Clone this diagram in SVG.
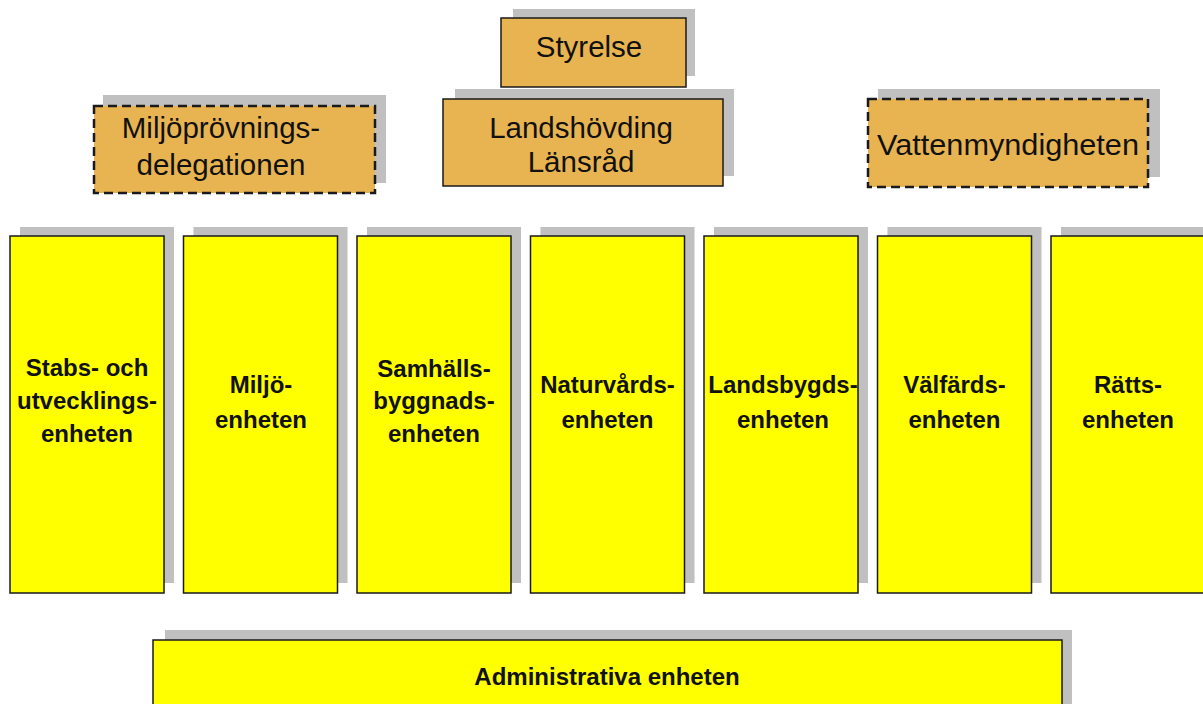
<svg xmlns="http://www.w3.org/2000/svg" width="1203" height="704" viewBox="0 0 1203 704">
<style>
.sh{fill:#c0c0c0;stroke:none}
.tan{fill:#e8b452;stroke:#1a1a1a;stroke-width:1.5}
.tand{fill:#e8b452;stroke:#1a1a1a;stroke-width:2.5;stroke-dasharray:9 5}
.yel{fill:#ffff00;stroke:#1a1a1a;stroke-width:1.5}
.t1{font-family:"Liberation Sans",Arial,sans-serif;font-size:29.5px;fill:#111;text-anchor:middle}
.t2{font-family:"Liberation Sans",Arial,sans-serif;font-size:24px;font-weight:bold;fill:#111;text-anchor:middle}
</style>
<rect width="1203" height="704" fill="#ffffff"/>

<g id="styrelse">
<rect class="sh" x="513" y="9" width="182" height="67"/>
<rect class="tan" x="501" y="18" width="185" height="69"/>
<text class="t1" x="589" y="57">Styrelse</text>
</g>

<g id="landshovding">
<rect class="sh" x="455" y="89" width="279" height="87"/>
<rect class="tan" x="443" y="99" width="280" height="87"/>
<text class="t1" x="581" y="138">Landshövding</text>
<text class="t1" x="581" y="172">Länsråd</text>
</g>

<g id="miljoprovning">
<rect class="sh" x="103" y="95" width="283" height="88"/>
<rect class="tand" x="94" y="106" width="281" height="87"/>
<text class="t1" x="221" y="138">Miljöprövnings-</text>
<text class="t1" x="221" y="175">delegationen</text>
</g>

<g id="vattenmyndigheten">
<rect class="sh" x="878" y="89" width="282" height="88"/>
<rect class="tand" x="868" y="99" width="280" height="88"/>
<text class="t1" x="1008" y="155" textLength="262" lengthAdjust="spacingAndGlyphs">Vattenmyndigheten</text>
</g>

<g id="stabs">
<rect class="sh" x="20" y="227" width="154" height="356"/>
<rect class="yel" x="10" y="236" width="154" height="357"/>
<text class="t2" x="87" y="376">Stabs- och</text>
<text class="t2" x="87" y="409">utvecklings-</text>
<text class="t2" x="87" y="442">enheten</text>
</g>

<g id="miljo">
<rect class="sh" x="193.5" y="227" width="154" height="356"/>
<rect class="yel" x="183.5" y="236" width="154" height="357"/>
<text class="t2" x="261" y="393">Miljö-</text>
<text class="t2" x="261" y="428">enheten</text>
</g>

<g id="samhalls">
<rect class="sh" x="367" y="227" width="154" height="356"/>
<rect class="yel" x="357" y="236" width="154" height="357"/>
<text class="t2" x="434" y="377">Samhälls-</text>
<text class="t2" x="434" y="409">byggnads-</text>
<text class="t2" x="434" y="442">enheten</text>
</g>

<g id="naturvards">
<rect class="sh" x="540.5" y="227" width="154" height="356"/>
<rect class="yel" x="530.5" y="236" width="154" height="357"/>
<text class="t2" x="607.5" y="393">Naturvårds-</text>
<text class="t2" x="607.5" y="428">enheten</text>
</g>

<g id="landsbygds">
<rect class="sh" x="714" y="227" width="154" height="356"/>
<rect class="yel" x="704" y="236" width="154" height="357"/>
<text class="t2" x="783" y="393">Landsbygds-</text>
<text class="t2" x="783" y="428">enheten</text>
</g>

<g id="valfards">
<rect class="sh" x="887.5" y="227" width="154" height="356"/>
<rect class="yel" x="877.5" y="236" width="154" height="357"/>
<text class="t2" x="954.5" y="393">Välfärds-</text>
<text class="t2" x="954.5" y="428">enheten</text>
</g>

<g id="ratts">
<rect class="sh" x="1061" y="227" width="154" height="356"/>
<rect class="yel" x="1051" y="236" width="154" height="357"/>
<text class="t2" x="1128" y="393">Rätts-</text>
<text class="t2" x="1128" y="428">enheten</text>
</g>

<g id="administrativa">
<rect class="sh" x="165" y="630" width="907" height="80"/>
<rect class="yel" x="153" y="640" width="909" height="70"/>
<text class="t2" x="607" y="685">Administrativa enheten</text>
</g>

<g id="connectors"></g>
</svg>
